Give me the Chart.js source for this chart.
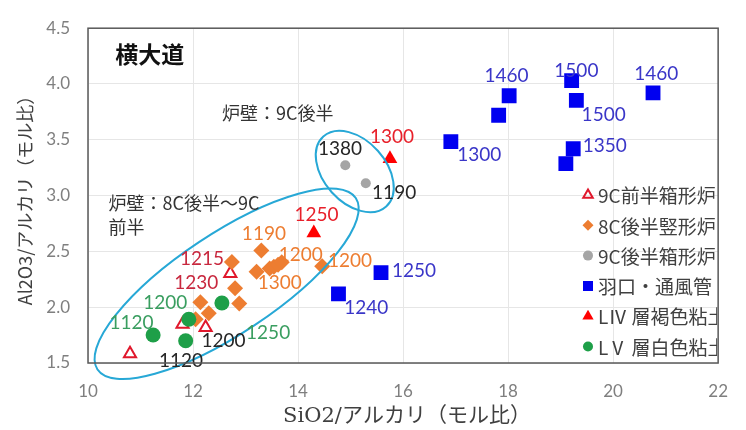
<!DOCTYPE html>
<html><head><meta charset="utf-8">
<script src="https://cdn.jsdelivr.net/npm/chart.js@4/dist/chart.umd.min.js"></script>
<style>html,body{margin:0;padding:0;background:#fff}canvas{display:block}</style>
</head><body>
<canvas id="c" width="746" height="430"></canvas>
<script>
// ---- data ----
const seriesNames = ['9C前半箱形炉', '8C後半竪形炉', '9C後半箱形炉', '羽口・通風管', 'LⅣ 層褐色粘土', 'LⅤ 層白色粘土'];
const x9CfrontBox = [10.80, 11.80, 12.24, 12.71];
const y9CfrontBox = [1.584, 1.848, 1.818, 2.303];
const x8ClateShaft = [13.30, 12.74, 13.21, 13.46, 13.54, 13.62, 13.69, 14.46, 12.80, 12.88, 12.14, 12.30, 12.05];
const y8ClateShaft = [2.509, 2.406, 2.318, 2.347, 2.362, 2.380, 2.403, 2.368, 2.170, 2.033, 2.044, 1.945, 1.892];
const x9ClateBox = [14.90, 15.29];
const y9ClateBox = [3.272, 3.110];
const xTuyere = [18.02, 17.82, 19.21, 19.30, 20.76, 16.91, 19.24, 19.10, 15.58, 14.77];
const yTuyere = [3.895, 3.720, 4.030, 3.853, 3.920, 3.483, 3.420, 3.287, 2.310, 2.120];
const xLIV = [15.75, 14.30];
const yLIV = [3.330, 2.664];
const xLV = [12.55, 11.92, 11.24, 11.86];
const yLV = [2.038, 1.892, 1.751, 1.700];
const xTicks = [10, 12, 14, 16, 18, 20, 22];
const yTicks = [1.5, 2.0, 2.5, 3.0, 3.5, 4.0, 4.5];
const xTitle = 'SiO2/アルカリ（モル比）';
const yTitle = 'Al2O3/アルカリ（モル比）';
// temperature labels (text, x, y, colour group)
const tempText = ['1460','1500','1460','1500','1300','1350','1250','1240',
                  '1300','1250',
                  '1215','1230',
                  '1190','1200','1200','1300',
                  '1200','1120','1250',
                  '1200','1120','1380','1190'];
const tempX = [17.97,19.30,20.82,19.82,17.45,19.84,16.21,15.30,
               15.79,14.35,
               12.17,12.06,
               13.35,14.05,14.99,13.65,
               11.47,10.83,13.43,
               12.58,11.77,14.80,15.83];
const tempY = [4.070,4.118,4.095,3.727,3.369,3.448,2.324,1.990,
               3.522,2.826,
               2.435,2.215,
               2.655,2.465,2.412,2.215,
               2.038,1.857,1.769,
               1.695,1.516,3.419,3.022];
const tempGroup = ['b','b','b','b','b','b','b','b',
                   'r','r',
                   'm','m',
                   'o','o','o','o',
                   'g','g','g',
                   'k','k','k','k'];
const noteText = ['炉壁：9C後半', '炉壁：8C後半〜9C', '前半'];
const noteX = [12.55, 10.39, 10.39];
const noteY = [3.736, 2.934, 2.714];
const siteName = '横大道';

// ---- styles ----
const groupColor = {b:'#3a36c8', r:'#e8202a', m:'#c8283e', o:'#ed7d31', g:'#3a9e60', k:'#262626'};
const styles = [
  {pointStyle:'triangle', r:7, bg:'rgba(255,255,255,0)', bc:'#e0182c', bw:2},
  {pointStyle:'rectRot', r:8, bg:'#ed7d31', bc:'#ed7d31', bw:0},
  {pointStyle:'circle', r:5, bg:'#a5a5a5', bc:'#a5a5a5', bw:0},
  {pointStyle:'rect', r:10.5, bg:'#0000f0', bc:'#0000f0', bw:0},
  {pointStyle:'triangle', r:8.5, bg:'#ff0000', bc:'#ff0000', bw:0},
  {pointStyle:'circle', r:7.5, bg:'#1e9f48', bc:'#1e9f48', bw:0}
];
const xs = [x9CfrontBox, x8ClateShaft, x9ClateBox, xTuyere, xLIV, xLV];
const ys = [y9CfrontBox, y8ClateShaft, y9ClateBox, yTuyere, yLIV, yLV];

const datasets = seriesNames.map((n, i) => ({
  label: n,
  data: xs[i].map((v, j) => ({x: v, y: ys[i][j]})),
  pointStyle: styles[i].pointStyle,
  pointRadius: styles[i].r,
  pointHoverRadius: styles[i].r,
  backgroundColor: styles[i].bg,
  borderColor: styles[i].bc,
  borderWidth: styles[i].bw,
  order: 10 - i
}));

const CJK = '"Noto Sans CJK JP"';
const overlay = {
  id: 'overlay',
  afterDatasetsDraw(chart) {
    const {ctx, chartArea: a, scales: {x, y}} = chart;
    ctx.save();
    // ellipses (not clipped, they run past the axis)
    ctx.strokeStyle = '#27a8d6'; ctx.lineWidth = 2;
    ctx.beginPath();
    ctx.ellipse(x.getPixelForValue(12.64), y.getPixelForValue(2.21), 155, 50, -0.586, 0, Math.PI * 2);
    ctx.stroke();
    ctx.beginPath();
    ctx.ellipse(x.getPixelForValue(15.08), y.getPixelForValue(3.216), 47, 31, 0.838, 0, Math.PI * 2);
    ctx.stroke();
    // temperature labels
    ctx.font = '19px Lato';
    ctx.textAlign = 'center'; ctx.textBaseline = 'middle';
    tempText.forEach((t, i) => {
      ctx.fillStyle = groupColor[tempGroup[i]];
      ctx.fillText(t, x.getPixelForValue(tempX[i]), y.getPixelForValue(tempY[i]));
    });
    // notes
    ctx.textAlign = 'left';
    ctx.fillStyle = '#333';
    ctx.font = '18px ' + CJK;
    noteText.forEach((t, i) => ctx.fillText(t, x.getPixelForValue(noteX[i]), y.getPixelForValue(noteY[i])));
    ctx.font = 'bold 23px ' + CJK;
    ctx.fillStyle = '#111';
    ctx.fillText(siteName, x.getPixelForValue(10.52), y.getPixelForValue(4.27));
    ctx.restore();
  },
  afterDraw(chart) {
    const {ctx, chartArea: a} = chart;
    ctx.save();
    // border
    ctx.strokeStyle = '#595959'; ctx.lineWidth = 1.5;
    ctx.strokeRect(a.left, a.top, a.right - a.left, a.bottom - a.top);
    // legend
    ctx.beginPath(); ctx.rect(a.left, a.top, a.right - a.left - 1, a.bottom - a.top); ctx.clip();
    const lx = 588, ly0 = 195, dy = 30.3;
    seriesNames.forEach((n, i) => {
      const cy = ly0 + i * dy, s = styles[i];
      ctx.beginPath();
      if (s.pointStyle === 'triangle') {
        const r = i === 0 ? 5.5 : 6.5;
        ctx.moveTo(lx, cy - r); ctx.lineTo(lx + r * 0.866, cy + r * 0.5); ctx.lineTo(lx - r * 0.866, cy + r * 0.5); ctx.closePath();
      } else if (s.pointStyle === 'rectRot') {
        ctx.moveTo(lx, cy - 5.5); ctx.lineTo(lx + 5.5, cy); ctx.lineTo(lx, cy + 5.5); ctx.lineTo(lx - 5.5, cy); ctx.closePath();
      } else if (s.pointStyle === 'rect') {
        ctx.rect(lx - 5, cy - 5, 10, 10);
      } else {
        ctx.arc(lx, cy, 5, 0, Math.PI * 2);
      }
      if (s.bw) { ctx.lineWidth = 2; ctx.strokeStyle = s.bc; ctx.stroke(); }
      else { ctx.fillStyle = s.bg; ctx.fill(); }
      ctx.fillStyle = '#404040';
      ctx.font = '19px ' + CJK;
      ctx.textAlign = 'left'; ctx.textBaseline = 'middle';
      ctx.fillText(n, 598, cy + 1);
    });
    ctx.restore();
    // axis titles
    ctx.save();
    ctx.fillStyle = '#404040';
    ctx.textAlign = 'center'; ctx.textBaseline = 'middle';
    ctx.font = '21px "DejaVu Serif", ' + CJK;
    ctx.fillText(xTitle, 407, 417);
    ctx.translate(25, 196);
    ctx.rotate(-Math.PI / 2);
    ctx.font = '18px ' + CJK;
    ctx.fillText(yTitle, 0, 0);
    ctx.restore();
  }
};

new Chart(document.getElementById('c'), {
  type: 'scatter',
  data: {datasets},
  options: {
    responsive: false,
    animation: false,
    events: [],
    layout: {padding: {top: 22, right: 19, left: 0, bottom: 0}},
    plugins: {legend: {display: false}, tooltip: {enabled: false}},
    scales: {
      x: {
        type: 'linear', min: 10, max: 22,
        afterBuildTicks: s => { s.ticks = xTicks.map(v => ({value: v})); },
        afterFit: s => { s.height = 67; },
        grid: {color: '#e6e6e6', lineWidth: 1, drawTicks: false},
        border: {display: false},
        ticks: {padding: 18, color: '#7f7f7f', font: {family: 'Lato', size: 17}, callback: v => String(v)}
      },
      y: {
        type: 'linear', min: 1.5, max: 4.5,
        afterBuildTicks: s => { s.ticks = yTicks.map(v => ({value: v})); },
        afterFit: s => { s.width = 88; },
        grid: {color: '#e6e6e6', lineWidth: 1, drawTicks: false},
        border: {display: false},
        ticks: {padding: 18, color: '#7f7f7f', font: {family: 'Lato', size: 17}, callback: v => Number(v).toFixed(1)}
      }
    }
  },
  plugins: [overlay]
});
</script>
</body></html>
